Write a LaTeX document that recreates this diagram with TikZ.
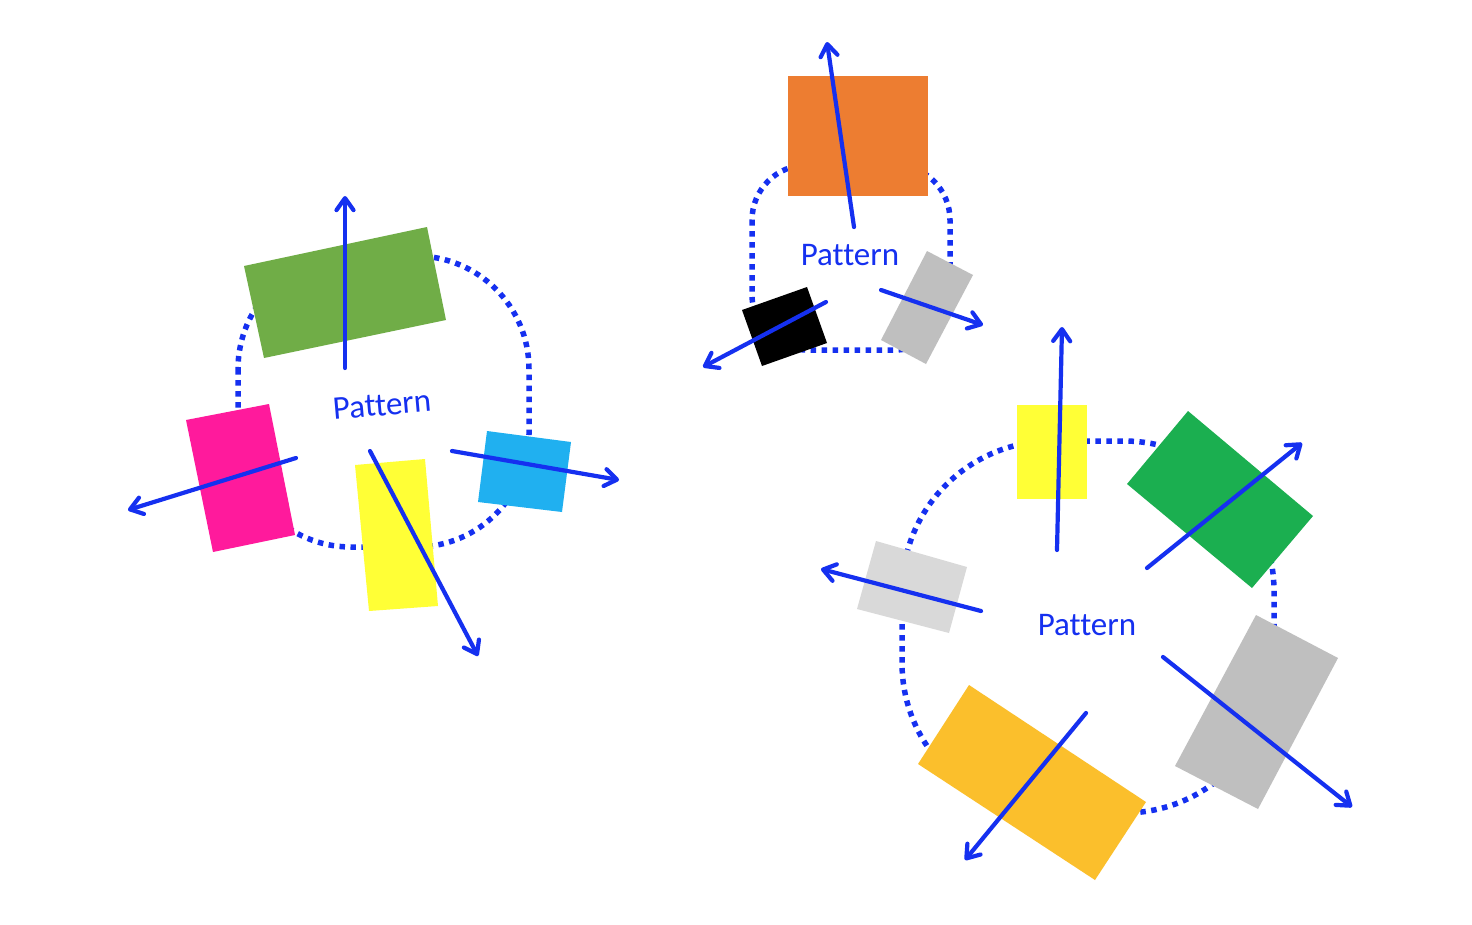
\documentclass[tikz,border=0pt]{standalone}
\usepackage{fontspec}
\setmainfont{Carlito}[Ligatures={NoCommon}]
\usetikzlibrary{arrows.meta}
\definecolor{arrowblue}{HTML}{1530F0}
\definecolor{leafgreen}{HTML}{70AD47}
\definecolor{hotpink}{HTML}{FF1A9C}
\definecolor{lemon}{HTML}{FFFF36}
\definecolor{skyblue}{HTML}{20B0F0}
\definecolor{pumpkin}{HTML}{ED7D31}
\definecolor{midgray}{HTML}{BFBFBF}
\definecolor{grassgreen}{HTML}{1BAF50}
\definecolor{palegray}{HTML}{D9D9D9}
\definecolor{gold}{HTML}{FBBF2C}
\begin{document}
\begin{tikzpicture}[x=1pt,y=-1pt,
  dots/.style={draw=arrowblue, line width=5.5pt, dash pattern=on 5.5pt off 5.5pt},
  vec/.style={draw=arrowblue, line width=4.2pt, line cap=round, -{Straight Barb[length=12pt,width=17pt,round]}},
  lbl/.style={text=arrowblue, font=\fontsize{33}{39}\selectfont, inner sep=0pt}]
\useasboundingbox (0,0) rectangle (1472,924);
\fill[white] (0,0) rectangle (1472,924);

% ---------------- left cluster ----------------
\draw[dots, rounded corners=113pt] (238,256) rectangle (529,547);
\fill[leafgreen] (244,266) -- (427,227) -- (446,320) -- (264,358) -- cycle;
\fill[hotpink] (186,420) -- (269,404) -- (295,535) -- (213,552) -- cycle;
\fill[lemon] (355,465) -- (425,459) -- (438,606) -- (369,611) -- cycle;
\fill[skyblue] (487,431) -- (571,442) -- (562,512) -- (478,502) -- cycle;
\draw[vec] (345,368) -- (345,196);
\draw[vec] (296,458) -- (128,510);
\draw[vec] (370,451) -- (478,656);
\draw[vec] (452,451) -- (619,480);
\node[lbl, rotate=5] (patA) at (382,405) {Pattern};

% ---------------- top cluster ----------------
\draw[dots, rounded corners=55pt] (752,165) rectangle (950,350);
\fill[pumpkin] (788,76) rectangle (928,196);
\fill[black] (742,310) -- (807,287) -- (827,343) -- (762,366) -- cycle;
\fill[midgray] (927,251) -- (973,275) -- (926,364) -- (881,340) -- cycle;
\draw[vec] (854,227) -- (827,42);
\draw[vec] (826,302) -- (703,367);
\draw[vec] (881,290) -- (983,325);
\node[lbl] (patB) at (850,255) {Pattern};

% ---------------- right cluster ----------------
\draw[dots, rounded corners=150pt] (902,441) rectangle (1274,813);
\fill[lemon] (1017,405) rectangle (1087,499);
\fill[grassgreen] (1188,411) -- (1313,516) -- (1252,588) -- (1127,484) -- cycle;
\fill[palegray] (876,541) -- (967,567) -- (949,633) -- (857,609) -- cycle;
\fill[midgray] (1256,615) -- (1338,658) -- (1258,809) -- (1175,766) -- cycle;
\fill[gold] (969,685) -- (1146,802) -- (1095,880) -- (918,764) -- cycle;
\draw[vec] (1057,550) -- (1062,327);
\draw[vec] (1147,568) -- (1302,443);
\draw[vec] (981,611) -- (821,569);
\draw[vec] (1163,657) -- (1352,807);
\draw[vec] (1086,713) -- (965,860);
\node[lbl] (patC) at (1087,625) {Pattern};
\end{tikzpicture}
\end{document}
